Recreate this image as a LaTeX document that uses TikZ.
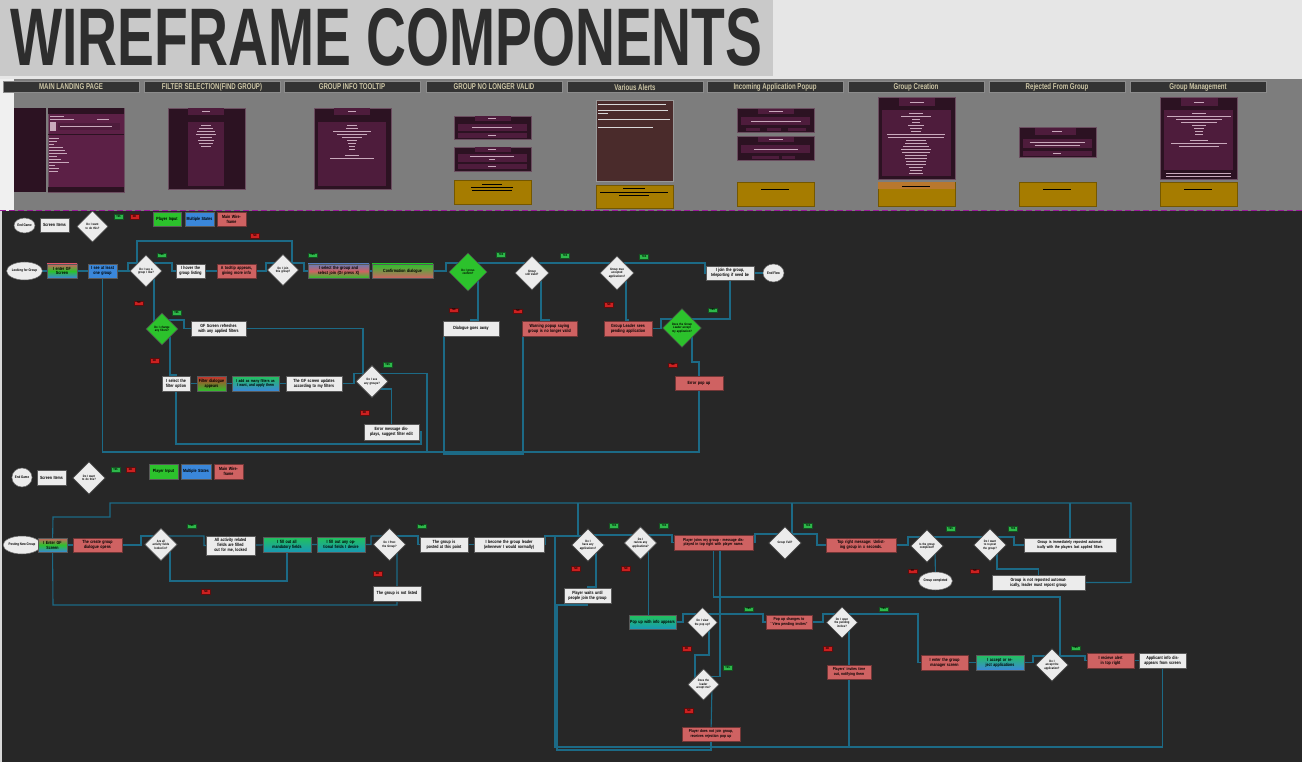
\documentclass[tikz,border=0pt]{standalone}
\usepackage{fontspec}
\setmainfont{Liberation Sans}
\newfontfamily\cf[FakeStretch=0.8]{Liberation Sans}
\newfontfamily\tf[FakeStretch=0.72]{Liberation Sans}
\usetikzlibrary{shapes.geometric,calc}
\pgfdeclarelayer{bg}\pgfdeclarelayer{conn}\pgfsetlayers{bg,conn,main}
\definecolor{dk}{HTML}{272727}
\definecolor{panel}{HTML}{7D7D7D}
\definecolor{topc}{HTML}{E6E6E6}
\definecolor{titbg}{HTML}{C9C9C9}
\definecolor{titc}{HTML}{2D2D2D}
\definecolor{tabc}{HTML}{333333}
\definecolor{tabt}{HTML}{CDC6A6}
\definecolor{wr}{HTML}{CF6262}
\definecolor{gG}{HTML}{2CC22C}
\definecolor{bB}{HTML}{3A87DA}
\definecolor{tg}{HTML}{22C25A}
\definecolor{tq}{HTML}{1899B5}
\definecolor{wb}{HTML}{ECECEC}
\definecolor{cnc}{HTML}{1C6A86}
\definecolor{ylw}{HTML}{A67C00}
\definecolor{org}{HTML}{B8782E}
\definecolor{mk}{HTML}{2C1222}
\definecolor{mm}{HTML}{4E1C3C}
\definecolor{mg}{HTML}{5C2046}
\definecolor{mt}{HTML}{C9A9BC}
\definecolor{brn}{HTML}{4A2B2B}
\definecolor{yesc}{HTML}{2DB84A}
\definecolor{noc}{HTML}{CC2020}
\definecolor{dashc}{HTML}{9A1A9A}
\newcommand\bx[7]{\pgfmathsetmacro\bxw{#4-#2}\pgfmathsetmacro\bxh{#5-#3}\pgfmathsetmacro\bxt{#4-#2-2}%
\node[#6,minimum width=\bxw pt,minimum height=\bxh pt,text width=\bxt pt] (#1) at ({(#2+#4)/2},{(#3+#5)/2}) {#7};}
\newcommand\dm[6]{\pgfmathsetmacro\dmd{#4*1.414}\pgfmathsetmacro\dmt{#4*0.76}%
\node[#5,minimum width=\dmd pt,minimum height=\dmd pt,text width=\dmt pt] (#1) at (#2,#3) {#6};}
\newcommand\yesl[3]{\node[yeslab] (#1) at (#2,#3) {YES};}
\newcommand\nol[3]{\node[nolab] (#1) at (#2,#3) {NO};}
\newcommand\tx[3]{\draw[tline] ({#1-#3/2},#2) -- ({#1+#3/2},#2);}
\newcommand\bt[3]{\draw[bline] ({#1-#3/2},#2) -- ({#1+#3/2},#2);}
\begin{document}
\begin{tikzpicture}[x=1pt,y=-1pt,
 bxs/.style={draw=black!65,line width=0.6pt,inner sep=0.6pt,align=center,font=\cf\bfseries\fontsize{4.5}{4.9}\selectfont,text=black},
 sm/.style={font=\cf\bfseries\fontsize{4.1}{4.5}\selectfont},
 wbox/.style={bxs,fill=wb},
 rbox/.style={bxs,fill=wr,draw=wr!55!black},
 gbox/.style={bxs,fill=gG},
 bbox/.style={bxs,fill=bB},
 dia/.style={diamond,draw=black!70,line width=0.6pt,fill=wb,inner sep=0pt,align=center,font=\cf\bfseries\fontsize{3.2}{3.5}\selectfont},
 gdia/.style={dia,fill=gG},
 circst/.style={ellipse,draw=black!60,line width=0.5pt,fill=wb,inner sep=0pt,align=center,font=\cf\bfseries\fontsize{3.6}{4}\selectfont},
 yeslab/.style={fill=yesc,draw=yesc!45!black,line width=0.4pt,minimum width=9pt,minimum height=4.5pt,inner sep=0pt,font=\cf\bfseries\fontsize{2.8}{3}\selectfont},
 nolab/.style={yeslab,fill=noc,draw=noc!45!black},
 cn/.style={draw=cnc,line width=1.1pt},
 tabst/.style={fill=tabc,draw=black!45,line width=0.6pt,text=tabt,font=\tf\bfseries\fontsize{8.5}{9}\selectfont,minimum width=136pt,minimum height=11.5pt,inner sep=0pt},
 tline/.style={draw=mt,line width=0.5pt},
 bline/.style={draw=black,line width=0.6pt},
 mock/.style={draw=mk!60!mt,line width=0.4pt}]
\useasboundingbox (0,0) rectangle (1302,762);
\begin{pgfonlayer}{bg}
\fill[topc] (0,0) rectangle (1302,79);
\fill[titbg] (0,0) rectangle (773,76);
\fill[white!94!black] (0,79) rectangle (14,211);
\fill[panel] (14,79) rectangle (1302,211);
\fill[dk] (0,211) rectangle (1302,762);
\fill[black!15] (0,211) rectangle (2,762);
\draw[dashc,line width=1pt,dash pattern=on 6pt off 3pt] (0,211) -- (1302,211);
\end{pgfonlayer}
% title
\node[inner sep=0pt,anchor=north west,text=titc] (title) at (10,8) {\resizebox{752pt}{57pt}{\bfseries WIREFRAME COMPONENTS}};
% tabs
\node[tabst] (t1) at (71,87) {MAIN LANDING PAGE};
\node[tabst] (t2) at (212,87) {FILTER SELECTION(FIND GROUP)};
\node[tabst] (t3) at (352,87) {GROUP INFO TOOLTIP};
\node[tabst] (t4) at (494,87) {GROUP NO LONGER VALID};
\node[tabst] (t5) at (635,87) {Various Alerts};
\node[tabst] (t6) at (775,87) {Incoming Application Popup};
\node[tabst] (t7) at (916,87) {Group Creation};
\node[tabst] (t8) at (1057,87) {Rejected From Group};
\node[tabst] (t9) at (1198,87) {Group Management};
% mockup 1
\fill[mk] (14,108) rectangle (46,192);
\fill[mg,mock] (48,108) rectangle (124,192);
\fill[mk] (48,108) rectangle (124,114);
\fill[mk] (48,187) rectangle (124,192);
\fill[mm] (58,123) rectangle (120,130);
\fill[mt] (50,122) rectangle (56,131);
\draw[mk,line width=0.6pt] (48,134.5) -- (124,134.5);
\draw[tline] (50,116) -- ++(14,0); \draw[tline] (50,119) -- ++(24,0); \draw[tline] (97,119) -- ++(12,0);
\draw[tline] (60,126.5) -- (112,126.5);
\foreach \y/\l in {138/10,141/8,144/5,147/14,150/16,153/18,156/8,159/12,162/20,165/6,168/10,171/9}{\draw[tline] (49,\y) -- ++(\l,0);}
% mockup 2
\fill[mk,mock] (168,108) rectangle (245,189);
\fill[mm] (188,108) rectangle (224,115);
\fill[mm] (188,122) rectangle (224,186);
\tx{206}{111.5}{8}
\foreach \y/\l in {125/10,128/14,131/18,134/20,137/12,140/16,143/14,146/10}{\tx{206}{\y}{\l}}
% mockup 3
\fill[mk,mock] (314,108) rectangle (391,189);
\fill[mm] (334,108) rectangle (370,115);
\fill[mm] (318,122) rectangle (386,186);
\tx{352}{111.5}{8}
\foreach \y/\l in {125/10,128/12,131/38,134/30,137/20,140/10,143/8,146/6,149/6,155/14,158/44}{\tx{352}{\y}{\l}}
% mockup 4
\fill[mk,mock] (454,116) rectangle (531,139);
\fill[mm] (475,116) rectangle (511,121);
\fill[mm] (458,124) rectangle (527,131);
\fill[mm] (458,133) rectangle (527,138);
\tx{492}{118.5}{8}\tx{492}{127.5}{40}\tx{492}{135.5}{8}
\fill[mk,mock] (454,147) rectangle (531,171);
\fill[mm] (475,147) rectangle (511,152);
\fill[mm] (458,154) rectangle (527,162);
\fill[mm] (458,164) rectangle (527,169);
\tx{492}{149.5}{8}\tx{492}{156.5}{44}\tx{492}{159.5}{6}\tx{492}{166.5}{8}
\fill[ylw,draw=ylw!70!black,line width=0.4pt] (454,180) rectangle (531,204);
\bt{492}{184}{20}\bt{492}{187}{42}\bt{492}{190}{40}
% mockup 5
\fill[brn,draw=black!40,line width=0.4pt] (596,100) rectangle (673,181);
\draw[white!85!black,line width=0.6pt] (598,104) -- ++(68,0) (598,110) -- ++(70,0) (598,113) -- ++(10,0) (598,119) -- ++(72,0) (598,127) -- ++(55,0);
\fill[ylw,draw=ylw!70!black,line width=0.4pt] (596,185) rectangle (673,208);
\bt{634}{188}{22}\bt{634}{192}{68}\bt{634}{195}{30}
% mockup 6
\fill[mk,mock] (737,108) rectangle (814,132);
\fill[mm] (758,109) rectangle (794,114);
\fill[mm] (741,117) rectangle (810,125);
\fill[mm] (746,128) rectangle (760,131.5); \fill[mm] (767,128) rectangle (781,131.5); \fill[mm] (788,128) rectangle (806,131.5);
\tx{776}{111.5}{14}\tx{776}{121}{50}
\fill[mk,mock] (737,136) rectangle (814,160);
\fill[mm] (758,137) rectangle (794,142);
\fill[mm] (741,145) rectangle (810,153);
\fill[mm] (752,156) rectangle (779,159.5); \fill[mm] (782,156) rectangle (795,159.5);
\tx{776}{139.5}{14}\tx{776}{149}{44}
\fill[ylw,draw=ylw!70!black,line width=0.4pt] (737,182) rectangle (814,206);
\bt{775}{189}{28}
% mockup 7
\fill[mk,mock] (878,97) rectangle (955,179);
\fill[mm] (899,98) rectangle (935,106);
\fill[mm] (882,110) rectangle (951,176);
\tx{917}{102}{14}
\foreach \y/\l in {113/14,116/30,119/8,122/8,125/16,128/12,131/10,134/58,137/56,140/20,143/22,146/26,149/30,152/28,155/22,158/22,161/20,164/20,167/14,170/12,173/14}{\tx{916}{\y}{\l}}
\fill[ylw,draw=ylw!70!black,line width=0.4pt] (878,182) rectangle (955,206);
\fill[org] (878,182) rectangle (955,189);
\bt{916}{186}{28}
% mockup 8
\fill[mk,mock] (1019,127) rectangle (1096,157);
\fill[mm] (1035,128) rectangle (1076,135);
\fill[mm] (1023,139) rectangle (1092,148);
\fill[mm] (1023,151) rectangle (1092,156);
\tx{1057}{131.5}{10}\tx{1057}{142}{55}\tx{1057}{145}{45}\tx{1057}{153.5}{8}
\fill[ylw,draw=ylw!70!black,line width=0.4pt] (1019,182) rectangle (1096,206);
\bt{1057}{189}{28}
% mockup 9
\fill[mk,mock] (1160,97) rectangle (1237,179);
\fill[mm] (1181,98) rectangle (1218,106);
\fill[mm] (1164,110) rectangle (1233,170);
\tx{1199}{102}{10}
\foreach \y/\l in {113/14,116/64,119/46,122/36,125/14,128/10,131/8,134/8,140/18,143/56,146/40}{\tx{1199}{\y}{\l}}
\draw[tline] (1166,173) -- (1231,173); \draw[tline] (1166,176) -- (1231,176);
\fill[ylw,draw=ylw!70!black,line width=0.4pt] (1160,182) rectangle (1237,206);
\bt{1198}{189}{28}
% ================= FLOW 1 =================
\node[circst,minimum width=21pt,minimum height=15pt] (eg1) at (24.5,225.5) {End Game};
\bx{scr1}{40}{218}{69}{232}{wbox}{Screen Items}
\dm{dl1}{92.5}{226.5}{22}{dia}{Do I want to do this?}
\yesl{ly0}{118.5}{216.5} \nol{ln0}{134.5}{216.5}
\bx{pin1}{153}{212}{181}{226}{gbox}{Player Input}
\bx{ms1}{185}{212}{214}{226}{bbox}{Multiple States}
\bx{mw1}{217}{212}{246}{226}{rbox}{Main Wireframe}
\node[circst,minimum width=21pt,minimum height=18pt] (lfg) at (24.5,271) {Looking for Group};
\bx{gf1}{47}{264}{77}{278}{bxs,top color=wr,bottom color=bB,middle color=gG}{I enter GF Screen}
\bx{seeone}{88}{264}{117}{278}{bbox}{I see at least one group}
\dm{d1}{146}{271}{22.6}{dia}{Do I see a group I like?}
\bx{hover}{176}{264}{205}{278}{wbox}{I hover the group listing}
\bx{tip}{217}{264}{256}{278}{rbox}{A tooltip appears, giving more info}
\dm{d2}{283}{270}{22}{dia}{Do I join this group?}
\bx{selgrp}{308}{264}{369}{278}{bxs,top color=bB!70!wr,bottom color=gG,middle color=wr}{I select the group and select join (Or press X)}
\bx{confd}{372}{264}{433}{278}{bxs,top color=gG,bottom color=wr}{Confirmation dialogue}
\dm{d3}{468}{272}{27}{gdia}{Do I press confirm?}
\dm{d4}{532}{273}{24}{dia}{Group still Valid?}
\dm{d5}{617}{273}{24}{dia}{Group max accepted applications?}
\bx{join}{706}{266}{754}{280}{wbox}{I join the group, teleporting if need be}
\node[circst,minimum width=21pt,minimum height=18pt] (endf) at (773.5,273) {End Flow};
\bx{dgone}{443}{321}{499}{336}{wbox}{Dialogue goes away}
\bx{warn}{522}{321}{577}{336}{rbox}{Warning popup saying group is no longer valid}
\bx{glsees}{604}{321}{652}{336}{rbox}{Group Leader sees pending application}
\dm{d6}{682}{328}{27.5}{gdia}{Does the Group Leader accept my application?}
\bx{errpop}{675}{376}{723}{390}{rbox}{Error pop up}
\dm{dfilt}{162}{329}{22.6}{gdia}{Do I change any filters?}
\bx{refresh}{191}{321}{246}{336}{wbox}{GF Screen refreshes with any applied filters}
\bx{selfilt}{162}{376}{190}{391}{wbox}{I select the filter option}
\bx{fdlg}{197}{376}{226}{391}{bxs,top color=noc!80!wr,bottom color=gG}{Filter dialogue appears}
\bx{addf}{232}{376}{279}{391}{bxs,sm,top color=tg,bottom color=bB}{I add as many filters as I want, and apply them}
\bx{upd}{286}{376}{342}{391}{wbox}{The GF screen updates according to my filters}
\dm{dany}{372}{381.5}{22.6}{dia}{Do I see any groups?}
\bx{errmsg}{364}{424}{419}{440}{wbox}{Error message displays, suggest filter edit}
\nol{ln1}{255}{235.5} \yesl{ly1}{161.5}{255} \yesl{ly2}{312.5}{255}
\nol{ln2}{139}{303} \yesl{ly3}{176.5}{312.5} \nol{ln3}{154.5}{360.5}
\yesl{ly4}{387.5}{364.5} \nol{ln4}{364.5}{412.5}
\yesl{ly5}{501}{254.5} \yesl{ly6}{565}{255.5} \yesl{ly7}{644}{256.5}
\nol{ln5}{454}{310} \nol{ln6}{518}{311} \nol{ln7}{609}{304.5}
\yesl{ly8}{712.5}{310} \nol{ln8}{673}{365}
% ================= FLOW 2 =================
\node[circst,minimum width=20pt,minimum height=19pt] (eg2) at (22,477.5) {End Game};
\bx{scr2}{37}{470}{66}{485}{wbox}{Screen Items}
\dm{dl2}{89}{478}{23}{dia}{Do I want to do this?}
\yesl{ly9}{115.5}{469.5} \nol{ln9}{130.5}{469.5}
\bx{pin2}{149}{464}{178}{479}{gbox}{Player Input}
\bx{ms2}{181}{464}{211}{479}{bbox}{Multiple States}
\bx{mw2}{214}{464}{243}{479}{rbox}{Main Wireframe}
\node[circst,minimum width=20pt,minimum height=18pt] (pngc) at (22,545) {Posting New Group};
\bx{gf2}{38}{538}{67}{552}{bxs,top color=wr,bottom color=bB,middle color=gG}{I Enter GF Screen}
\bx{cgd}{73}{538}{122}{552}{rbox}{The create group dialogue opens}
\dm{e1}{161}{544.5}{23}{dia}{Are all activity fields locked in?}
\bx{allact}{206}{536}{255}{555}{wbox}{All activity related fields are filled out for me, locked}
\bx{mand}{263}{537}{311}{552}{bxs,top color=tg,bottom color=tq}{I fill out all mandatory fields}
\bx{opt}{317}{537}{365}{552}{bxs,top color=tg,bottom color=tq}{I fill out any optional fields I desire}
\dm{epost}{389.5}{544.5}{23}{dia}{Do I Post the Group?}
\bx{posted}{420}{537}{468}{552}{wbox}{The group is posted at this point}
\bx{leader}{474}{537}{544}{552}{wbox}{I become the group leader (whenever I would normally)}
\bx{notlisted}{373}{586}{421}{601}{wbox}{The group is not listed}
\dm{eapps}{588}{545}{23}{dia}{Do I have any applications?}
\bx{waits}{564}{588}{611}{603}{wbox}{Player waits until people join the group}
\dm{erev}{640.5}{543}{23}{dia}{Do I review any applications?}
\bx{pjoin}{674}{535}{753}{550}{rbox,sm}{Player joins my group - message displayed in top right with player name.}
\dm{efull}{785}{543}{23}{dia}{Group Full?}
\bx{topmsg}{826}{538}{896}{552}{rbox}{Top right message: Unlisting group in x seconds.}
\dm{ecomp}{927}{546}{23}{dia}{Is the group completed?}
\node[circst,minimum width=21pt,minimum height=18pt] (gcomp) at (935.5,581) {Group completed};
\dm{erepost}{990}{545}{23}{dia}{Do I want to re-post the group?}
\bx{repauto}{1024}{538}{1116}{552}{wbox,sm}{Group is immediately reposted automatically with the players last applied filters}
\bx{notrep}{992}{575}{1085}{590}{wbox}{Group is not reposted automatically, leader must repost group}
\bx{popinfo}{629}{615}{676}{629}{bxs,top color=tg,bottom color=tq}{Pop up with info appears}
\dm{eview}{702.5}{622.5}{21}{dia}{Do I view the pop up?}
\bx{popchg}{766}{615}{812}{629}{rbox,sm}{Pop up changes to ``View pending invites''}
\dm{eopen}{842}{622.5}{22}{dia}{Do I open the pending invites?}
\bx{timeout}{827}{665}{871}{679}{rbox,sm}{Players' invites time out, notifying them}
\dm{elead}{703.5}{684.5}{22}{dia}{Does the leader accept me?}
\bx{reject}{682}{727}{740}{741}{rbox,sm}{Player does not join group, receives rejection pop up}
\bx{mgr}{921}{655}{968}{670}{rbox}{I enter the group manager screen}
\bx{accrej}{976}{655}{1024}{670}{bxs,top color=tg,bottom color=bB}{I accept or reject applications}
\dm{eacc}{1052}{665}{23}{dia}{Do I accept the application?}
\bx{alert}{1087}{653}{1134}{668}{rbox}{I recieve alert in top right}
\bx{appinfo}{1139}{653}{1186}{668}{wbox}{Applicant info disappears from screen}
\yesl{ly10}{191.5}{526} \nol{ln10}{206}{591.5} \yesl{ly11}{421.5}{526} \nol{ln11}{377.5}{573.5}
\yesl{ly12}{614}{525.5} \nol{ln12}{576}{568.5} \yesl{ly13}{664}{525.5} \nol{ln13}{626}{568.5}
\yesl{ly14}{808}{525.5} \yesl{ly15}{950.5}{528.5} \nol{ln15}{912.5}{571} \yesl{ly16}{1013}{528.5} \nol{ln16}{975}{571}
\yesl{ly17}{748.5}{609} \nol{ln17}{686.5}{648.5} \yesl{ly18}{883.5}{609} \nol{ln18}{827.5}{648.5}
\yesl{ly19}{727.5}{667.5} \nol{ln19}{689}{710.5} \yesl{ly20}{1075.5}{648}
\coordinate (j1) at (578,503);
\coordinate (j2) at (555,536);
% ================= CONNECTORS =================
\begin{pgfonlayer}{conn}
\draw[cn] (lfg.center) -- (gf1.center) -- (seeone.center) -- (d1.center);
\draw[cn] (d2.center) ++(9,0) -- (292,241) -- (137,241) -- (137,263) -- (128,263) -- (128,271);
\draw[cn] (d1.center) ++(0,-8) -- (172,263) -- (172,271) -- (hover.center);
\draw[cn] (hover.center) -- (tip.center) -- (266,271) -- (266,263) -- (283,263);
\draw[cn] (d2.center) ++(0,-7) -- (304,263) -- (304,271) -- (selgrp.center);
\draw[cn] (selgrp.center) -- (confd.center) -- (446,271) -- (446,263) -- (468,263);
\draw[cn] (d3.center) ++(0,-9) -- (617,263);
\draw[cn] (d5.center) ++(0,-10) -- (705,263) -- (705,273) -- (join.center);
\draw[cn] (join.center) -- (endf.center);
\draw[cn] (d3.center) ++(10,0) -- (478,320) -- (471,320) -- (dgone.center);
\draw[cn] (d4.center) ++(9,0) -- (541,320) -- (549.5,320) -- (warn.center);
\draw[cn] (d5.center) ++(9,0) -- (626,320) -- (628,320) -- (glsees.center);
\draw[cn] (glsees.center) -- (661,328.5) -- (661,319) -- (730,319) -- (join.center);
\draw[cn] (d6.center) ++(10,0) -- (692,362) -- (699,362) -- (errpop.center) -- (699,452) -- (102.5,452) -- (seeone.center);
\draw[cn] (dany.center) ++(0,-8) -- (427,373.5) -- (427,452);
\draw[cn] (dgone.center) -- (444,328.5) -- (444,454) -- (523,454) -- (523,328.5) -- (warn.center);
\draw[cn] (d1.center) ++(8,0) -- (154,329);
\draw[cn] (dfilt.center) ++(0,-9) -- (184,320) -- (184,328.5) -- (refresh.center) -- (363,328.5) -- (363,377);
\draw[cn] (dfilt.center) ++(8,0) -- (170,375) -- (176,375) -- (selfilt.center) -- (upd.center) -- (354,383.5) -- (354,373.5) -- (372,373.5);
\draw[cn] (dany.center) ++(0,7.5) -- (391.5,389) -- (errmsg.center);
\draw[cn] (errmsg.center) -- (421,432) -- (421,444) -- (176,444) -- (selfilt.center);
% flow 2
\draw[cn] (pngc.center) -- (gf2.center) -- (cgd.center) -- (141,545) -- (141,536) -- (161,536);
\draw[cn] (e1.center) ++(0,-8.5) -- (204,536) -- (204,545.5) -- (allact.center) -- (mand.center) -- (opt.center) -- (371,544.5) -- (371,536) -- (389.5,536);
\draw[cn] (e1.center) ++(9,0) -- (170,581) -- (287,581) -- (mand.center);
\draw[cn] (epost.center) ++(0,-8.5) -- (418,536) -- (418,544.5) -- (posted.center) -- (leader.center) -- (545,544.5) -- (545,536) -- (588,536);
\draw[cn] (epost.center) ++(7.5,0) -- (notlisted.center) -- (397,605) -- (53,605) -- (gf2.center);
\draw[cn] (gf2.center) -- (53,517) -- (110,517) -- (110,503) -- (1131,503) -- (1131,582.5) -- (notrep.center);
\draw[cn] (j1) -- (578,536);
\draw[cn] (eapps.center) ++(0,-10) -- (640.5,535);
\draw[cn] (erev.center) ++(0,-8) -- (672,535) -- (672,542.5) -- (pjoin.center) -- (755,542.5) -- (755,534) -- (785,534);
\draw[cn] (efull.center) ++(0,-9) -- (817,534) -- (817,545) -- (topmsg.center) -- (908,545) -- (908,537) -- (927,537);
\draw[cn] (efull.center) ++(7,0) -- (792,503);
\draw[cn] (ecomp.center) ++(0,-9) -- (1014,537) -- (1014,545) -- (repauto.center) -- (1070,503);
\draw[cn] (ecomp.center) ++(8,0) -- (gcomp.center);
\draw[cn] (erepost.center) ++(7,0) -- (997,569) -- (1038.5,569) -- (notrep.center);
\draw[cn] (eapps.center) ++(8,0) -- (596,587) -- (587.5,587) -- (waits.center) -- (587.5,605) -- (557,605) -- (557,750) -- (711,750) -- (reject.center);
\draw[cn] (j2) -- (555,747) -- (1162.5,747) -- (appinfo.center);
\draw[cn] (erev.center) ++(8,0) -- (648.5,622) -- (popinfo.center);
\draw[cn] (popinfo.center) -- (683,622) -- (683,614) -- (702.5,614);
\draw[cn] (eview.center) ++(0,-8.5) -- (763,614) -- (763,622) -- (popchg.center) -- (823,622) -- (823,614) -- (842,614);
\draw[cn] (eopen.center) ++(0,-8.5) -- (918,614) -- (918,662.5) -- (mgr.center) -- (accrej.center) -- (1033,662.5) -- (1033,656) -- (1052,656);
\draw[cn] (eopen.center) ++(7,0) -- (849,672) -- (timeout.center) -- (849,747);
\draw[cn] (eview.center) ++(6.5,0) -- (709,655) -- (695,655) -- (695,684.5);
\draw[cn] (elead.center) ++(8.5,0) -- (711,734) -- (reject.center);
\draw[cn] (elead.center) ++(6,-8) -- (720,676.5) -- (720,542.5);
\draw[cn] (pjoin.center) -- (713.5,597) -- (1060,597) -- (1060,656);
\draw[cn] (eacc.center) ++(0,-9) -- (1085,656) -- (1085,660.5) -- (alert.center) -- (appinfo.center);
\end{pgfonlayer}
\end{tikzpicture}
\end{document}
